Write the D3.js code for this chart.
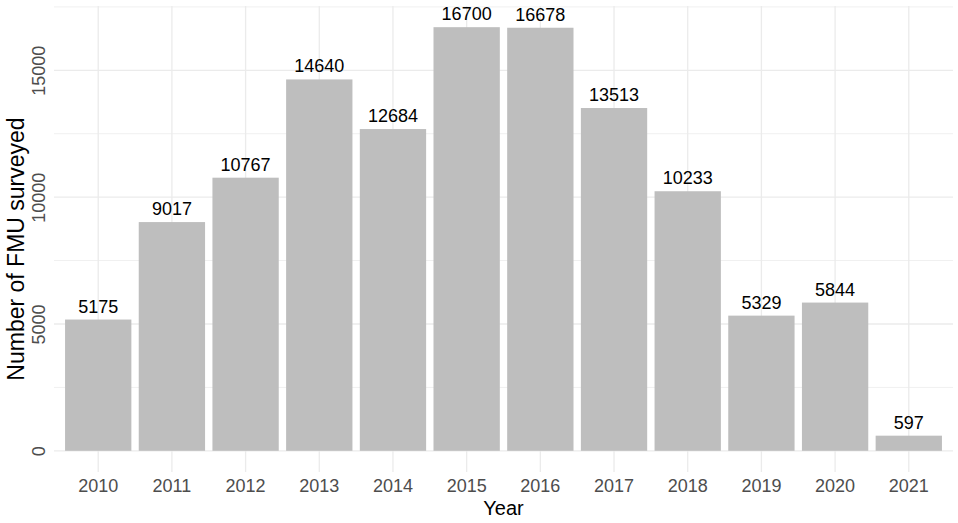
<!DOCTYPE html>
<html>
<head>
<meta charset="utf-8">
<script src="https://cdn.jsdelivr.net/npm/d3@7"></script>
<style>
	body { margin: 0; background: #fff; }
	svg { font-family: "Liberation Sans", Arial, sans-serif; }
</style>
</head>
<body>
<div id="chart"></div>
<script>
const years = ["2010", "2011", "2012", "2013", "2014", "2015", "2016", "2017", "2018", "2019", "2020", "2021"];
const fmuCounts = [5175, 9017, 10767, 14640, 12684, 16700, 16678, 13513, 10233, 5329, 5844, 597];
const yTicks = [0, 5000, 10000, 15000];
const yMinorTicks = [2500, 7500, 12500, 17500];

const width = 958, height = 523;
const panel = { left: 54, right: 953, top: 6, bottom: 472 };

const svg = d3.select("#chart")
	.append("svg")
	.attr("width", width)
	.attr("height", height);

// ggplot-style expansion: 5% on continuous y
const yMax = d3.max(fmuCounts);
const y = d3.scaleLinear()
	.domain([-yMax * 0.05, yMax * 1.05])
	.range([panel.bottom, panel.top]);

const x = d3.scaleBand()
	.domain(years)
	.range([panel.left, panel.right])
	.paddingInner(0.1)
	.paddingOuter(0.15);

// minor grid
svg.append("g").selectAll("line")
	.data(yMinorTicks)
	.enter().append("line")
	.attr("x1", panel.left)
	.attr("x2", panel.right)
	.attr("y1", d => y(d))
	.attr("y2", d => y(d))
	.style("stroke", "#f0f0f0")
	.style("stroke-width", 1);

// major grid
svg.append("g").selectAll("line")
	.data(yTicks)
	.enter().append("line")
	.attr("x1", panel.left)
	.attr("x2", panel.right)
	.attr("y1", d => y(d))
	.attr("y2", d => y(d))
	.style("stroke", "#ebebeb")
	.style("stroke-width", 1.3);

svg.append("g").selectAll("line")
	.data(years)
	.enter().append("line")
	.attr("x1", d => x(d) + x.bandwidth() / 2)
	.attr("x2", d => x(d) + x.bandwidth() / 2)
	.attr("y1", panel.top)
	.attr("y2", panel.bottom)
	.style("stroke", "#ebebeb")
	.style("stroke-width", 1.3);

// bars
svg.append("g").selectAll("rect")
	.data(fmuCounts)
	.enter().append("rect")
	.attr("x", (d, i) => x(years[i]))
	.attr("width", x.bandwidth())
	.attr("y", d => y(d))
	.attr("height", d => y(0) - y(d))
	.style("fill", "#bebebe");

// value labels
svg.append("g").selectAll("text")
	.data(fmuCounts)
	.enter().append("text")
	.attr("x", (d, i) => x(years[i]) + x.bandwidth() / 2)
	.attr("y", d => y(d) - 7)
	.attr("text-anchor", "middle")
	.style("font-size", "18px")
	.style("fill", "#000")
	.text(d => d);

// x axis labels
const xAxis = d3.axisBottom(x).tickSize(0).tickPadding(0);
svg.append("g")
	.attr("transform", "translate(0,492)")
	.call(xAxis)
	.call(g => g.select(".domain").remove())
	.selectAll("text")
	.attr("y", 0)
	.attr("dy", 0)
	.style("font-size", "18px")
	.style("fill", "#4d4d4d");

// y axis labels, rotated like ggplot angle = 90
const yAxis = d3.axisLeft(y).tickValues(yTicks).tickSize(0).tickFormat(d3.format("d"));
svg.append("g")
	.attr("transform", "translate(45,0)")
	.call(yAxis)
	.call(g => g.select(".domain").remove())
	.selectAll("text")
	.attr("x", 0)
	.attr("y", 0)
	.attr("dy", 0)
	.attr("transform", "rotate(-90)")
	.attr("text-anchor", "middle")
	.style("font-size", "18px")
	.style("fill", "#4d4d4d");

// axis titles
svg.append("text")
	.attr("x", (panel.left + panel.right) / 2)
	.attr("y", 515)
	.attr("text-anchor", "middle")
	.style("font-size", "20px")
	.text("Year");

svg.append("text")
	.attr("transform", "translate(24,249) rotate(-90)")
	.attr("text-anchor", "middle")
	.style("font-size", "23px")
	.text("Number of FMU surveyed");
</script>
</body>
</html>
